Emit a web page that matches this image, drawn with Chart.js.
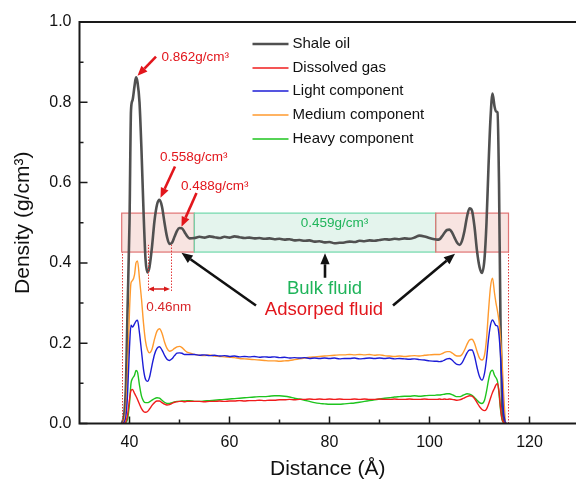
<!DOCTYPE html>
<html>
<head>
<meta charset="utf-8">
<title>Density profile</title>
<script src="https://cdn.jsdelivr.net/npm/chart.js@4.4.1/dist/chart.umd.min.js"></script>
<style>
  html, body { margin: 0; padding: 0; background: #fff; }
  #wrap { width: 576px; height: 488px; }
</style>
</head>
<body>
<div id="wrap"><canvas id="densityChart" width="576" height="488"></canvas></div>
<script>
// Distance across the slit pore (Å); dense near the walls, 1 Å in the middle
const distance = [
  38.5, 39, 39.3, 39.6, 40, 40.3, 40.6, 41, 41.3, 41.6, 42, 42.4, 42.8, 43.2, 43.6, 44,
  44.5, 45, 45.5, 46, 46.5, 47, 47.5, 48, 48.5, 49, 49.5, 50, 50.5, 51, 51.5, 52,
  53, 54, 55, 56, 57, 58, 59, 60, 61, 62, 63, 64, 65, 66, 67, 68, 69, 70,
  71, 72, 73, 74, 75, 76, 77, 78, 79, 80, 81, 82, 83, 84, 85, 86, 87, 88, 89, 90,
  91, 92, 93, 94, 95, 96, 97, 98, 99, 100, 101,
  101.5, 102, 102.5, 103, 103.5, 104, 104.5, 105, 105.5, 106, 106.5, 107, 107.5, 108, 108.5, 109,
  109.5, 110, 110.5, 111, 111.4, 111.8, 112.2, 112.6, 113, 113.3, 113.6, 113.9, 114.2, 114.5, 114.8, 115.2
];

const shaleOil = [
  0, 0.03, 0.1, 0.28, 0.5, 0.78, 0.805, 0.84, 0.862, 0.85, 0.8, 0.68, 0.53, 0.41, 0.376, 0.39,
  0.44, 0.505, 0.545, 0.557, 0.54, 0.5, 0.465, 0.447, 0.45, 0.465, 0.48, 0.487, 0.486, 0.477, 0.467, 0.461,
  0.462, 0.465, 0.463, 0.466, 0.464, 0.462, 0.465, 0.463, 0.466, 0.464, 0.462, 0.463, 0.461, 0.462, 0.46, 0.461, 0.459, 0.46,
  0.458, 0.459, 0.456, 0.457, 0.455, 0.456, 0.453, 0.454, 0.451, 0.452, 0.449, 0.45, 0.451, 0.453, 0.452, 0.455, 0.454, 0.456, 0.455, 0.457,
  0.459, 0.458, 0.46, 0.459, 0.461, 0.46, 0.463, 0.468, 0.466, 0.462, 0.459,
  0.458, 0.459, 0.466, 0.475, 0.482, 0.483, 0.476, 0.463, 0.451, 0.445, 0.455, 0.48, 0.515, 0.536, 0.53, 0.49,
  0.43, 0.39, 0.375, 0.41, 0.5, 0.64, 0.76, 0.822, 0.79, 0.777, 0.775, 0.6, 0.25, 0.06, 0.015, 0
];

const dissolvedGas = [
  0, 0, 0.005, 0.02, 0.06, 0.082, 0.085, 0.075, 0.068, 0.06, 0.048, 0.037, 0.03, 0.028, 0.03, 0.036,
  0.045, 0.052, 0.056, 0.056, 0.052, 0.048, 0.046, 0.047, 0.05, 0.053, 0.054, 0.055, 0.055, 0.054, 0.055, 0.055,
  0.055, 0.055, 0.054, 0.055, 0.055, 0.056, 0.055, 0.056, 0.056, 0.057, 0.056, 0.057, 0.057, 0.058, 0.057, 0.058, 0.058, 0.059,
  0.059, 0.06, 0.059, 0.06, 0.06, 0.061, 0.06, 0.061, 0.06, 0.061, 0.06, 0.061, 0.06, 0.06, 0.061, 0.06, 0.061, 0.06, 0.06, 0.061,
  0.06, 0.06, 0.061, 0.06, 0.06, 0.061, 0.06, 0.06, 0.061, 0.06, 0.06,
  0.06, 0.061, 0.06, 0.061, 0.06, 0.061, 0.06, 0.059, 0.058, 0.059, 0.061, 0.064, 0.067, 0.069, 0.068, 0.062,
  0.052, 0.042, 0.035, 0.032, 0.036, 0.048, 0.063, 0.077, 0.088, 0.096, 0.1, 0.08, 0.04, 0.012, 0.003, 0
];

const lightComp = [
  0, 0.005, 0.02, 0.07, 0.19, 0.245, 0.24, 0.248, 0.255, 0.257, 0.225, 0.18, 0.135, 0.11, 0.105, 0.115,
  0.145, 0.172, 0.187, 0.191, 0.183, 0.17, 0.16, 0.157, 0.161, 0.169, 0.175, 0.176, 0.175, 0.172, 0.172, 0.172,
  0.172, 0.17, 0.171, 0.169, 0.17, 0.168, 0.169, 0.167, 0.168, 0.166, 0.167, 0.166, 0.167, 0.165, 0.166, 0.165, 0.166, 0.164,
  0.165, 0.163, 0.164, 0.163, 0.164, 0.162, 0.163, 0.162, 0.163, 0.162, 0.163, 0.161, 0.162, 0.162, 0.163, 0.161, 0.162, 0.163, 0.162, 0.163,
  0.162, 0.163, 0.161, 0.162, 0.161, 0.16, 0.161, 0.159, 0.158, 0.156, 0.155,
  0.155, 0.154, 0.155, 0.158, 0.161, 0.162, 0.158, 0.152, 0.147, 0.146, 0.151, 0.163, 0.176, 0.183, 0.183, 0.168,
  0.14, 0.117, 0.108, 0.125, 0.16, 0.21, 0.245, 0.258, 0.25, 0.244, 0.243, 0.22, 0.17, 0.1, 0.03, 0
];

const mediumComp = [
  0, 0.01, 0.04, 0.12, 0.28, 0.35, 0.356, 0.37, 0.4, 0.405, 0.36, 0.31, 0.25, 0.205, 0.183, 0.176,
  0.185, 0.21, 0.23, 0.236, 0.225, 0.203, 0.187, 0.18, 0.182, 0.187, 0.191, 0.192, 0.189, 0.183, 0.178, 0.176,
  0.172, 0.17, 0.169, 0.171, 0.168, 0.167, 0.166, 0.165, 0.164, 0.162, 0.161, 0.16, 0.159, 0.158, 0.157, 0.156, 0.156, 0.155,
  0.156, 0.157, 0.159, 0.161, 0.163, 0.165, 0.166, 0.167, 0.168, 0.169, 0.17, 0.171, 0.171, 0.172, 0.171, 0.172, 0.171, 0.172, 0.17, 0.171,
  0.169, 0.168, 0.167, 0.168, 0.167, 0.168, 0.169, 0.168, 0.17, 0.171, 0.172,
  0.172, 0.172, 0.174, 0.177, 0.179, 0.179, 0.176, 0.171, 0.168, 0.168, 0.172, 0.183, 0.197, 0.208, 0.21, 0.2,
  0.18, 0.163, 0.158, 0.17, 0.21, 0.28, 0.34, 0.362, 0.325, 0.3, 0.28, 0.255, 0.21, 0.16, 0.08, 0
];

const heavyComp = [
  0, 0, 0.003, 0.01, 0.05, 0.1, 0.112, 0.12, 0.132, 0.128, 0.095, 0.068, 0.056, 0.052, 0.052, 0.054,
  0.058, 0.062, 0.064, 0.063, 0.058, 0.053, 0.05, 0.05, 0.052, 0.054, 0.055, 0.055, 0.056, 0.056, 0.057, 0.057,
  0.055, 0.055, 0.056, 0.057, 0.058, 0.059, 0.06, 0.061, 0.062, 0.063, 0.064, 0.065, 0.066, 0.067, 0.067, 0.068, 0.069, 0.069,
  0.068, 0.066, 0.063, 0.061, 0.058, 0.055, 0.052, 0.05, 0.049, 0.048, 0.048, 0.048, 0.049, 0.05, 0.051, 0.053, 0.055, 0.057, 0.059, 0.061,
  0.063, 0.064, 0.066, 0.067, 0.068, 0.068, 0.069, 0.068, 0.069, 0.07, 0.07,
  0.071, 0.071, 0.072, 0.073, 0.074, 0.074, 0.072, 0.069, 0.067, 0.067, 0.069, 0.072, 0.074, 0.073, 0.07, 0.065,
  0.058, 0.052, 0.05, 0.058, 0.08, 0.108, 0.128, 0.133, 0.12, 0.114, 0.105, 0.075, 0.035, 0.01, 0.002, 0
];

const seriesNames = ['Shale oil', 'Dissolved gas', 'Light component', 'Medium component', 'Heavy component'];
const seriesColors = ['#505050', '#f01c1c', '#1c1cd6', '#ff9a2e', '#1ec41e'];
const seriesWidths = [2.6, 1.4, 1.4, 1.4, 1.4];
const seriesValues = [shaleOil, dissolvedGas, lightComp, mediumComp, heavyComp];

const xTicks = [40, 60, 80, 100, 120];
const yTicks = [0, 0.2, 0.4, 0.6, 0.8, 1.0];

// Peak call-outs, region boxes and guide marks, in axis units
const peakNotes = [
  { label: '0.862g/cm³', x: 46.4, y: 0.912, tail: [45.3, 0.914], tip: [41.6, 0.866] },
  { label: '0.558g/cm³', x: 46.1, y: 0.662, tail: [49.1, 0.64], tip: [46.2, 0.562] },
  { label: '0.488g/cm³', x: 50.3, y: 0.592, tail: [53.4, 0.574], tip: [50.4, 0.49] }
];
const regionBand = [0.427, 0.524];
const regions = [
  { from: 38.44, to: 52.96, kind: 'adsorbed' },
  { from: 52.96, to: 101.24, kind: 'bulk' },
  { from: 101.24, to: 115.8, kind: 'adsorbed' }
];
const dottedGuides = [
  { x: 38.44, y0: 0, y1: 0.427 },
  { x: 43.6, y0: 0.33, y1: 0.445 },
  { x: 48.2, y0: 0.33, y1: 0.445 },
  { x: 115.65, y0: 0, y1: 0.427 }
];
const pointerArrows = [
  { tail: [65.3, 0.294], tip: [50.4, 0.425] },
  { tail: [92.7, 0.294], tip: [105.1, 0.423] },
  { tail: [79.1, 0.363], tip: [79.1, 0.424] }
];

const FONT = '"Liberation Sans", Arial, Helvetica, sans-serif';
const RED = '#e2161c';
const GREEN = '#1fb45a';

function arrow(ctx, x1, y1, x2, y2, color, width, head) {
  const ang = Math.atan2(y2 - y1, x2 - x1);
  const bx = x2 - head * Math.cos(ang);
  const by = y2 - head * Math.sin(ang);
  const hw = head * 0.42;
  ctx.strokeStyle = color;
  ctx.fillStyle = color;
  ctx.lineWidth = width;
  ctx.beginPath();
  ctx.moveTo(x1, y1);
  ctx.lineTo(bx, by);
  ctx.stroke();
  ctx.beginPath();
  ctx.moveTo(x2, y2);
  ctx.lineTo(bx + hw * Math.sin(ang), by - hw * Math.cos(ang));
  ctx.lineTo(bx - hw * Math.sin(ang), by + hw * Math.cos(ang));
  ctx.closePath();
  ctx.fill();
}

function label(ctx, str, px, py, size, color, align) {
  ctx.font = size + 'px ' + FONT;
  ctx.fillStyle = color;
  ctx.textAlign = align || 'left';
  ctx.textBaseline = 'middle';
  ctx.fillText(str, px, py);
}

// shaded boxes for adsorbed / bulk layers, under the curves
const regionPlugin = {
  id: 'regionPlugin',
  beforeDatasetsDraw(chart) {
    const { ctx, scales: { x, y } } = chart;
    const top = y.getPixelForValue(regionBand[1]);
    const bot = y.getPixelForValue(regionBand[0]);
    ctx.save();
    regions.forEach(r => {
      const l = x.getPixelForValue(r.from);
      const w = x.getPixelForValue(r.to) - l;
      ctx.fillStyle = r.kind === 'bulk' ? '#e4f4ed' : '#f8e4e1';
      ctx.fillRect(l, top, w, bot - top);
    });
    regions.forEach(r => {
      const l = x.getPixelForValue(r.from);
      const w = x.getPixelForValue(r.to) - l;
      ctx.strokeStyle = r.kind === 'bulk' ? '#6fd8ab' : '#e07474';
      ctx.lineWidth = 1.2;
      ctx.strokeRect(l, top, w, bot - top);
    });
    ctx.restore();
  }
};

// axes frame, inward ticks, legend and annotations
const overlayPlugin = {
  id: 'overlayPlugin',
  afterDraw(chart) {
    const { ctx, chartArea: a, scales: { x, y } } = chart;
    ctx.save();

    // dotted guides
    ctx.strokeStyle = '#e23b3b';
    ctx.lineWidth = 1;
    ctx.setLineDash([1.5, 1.5]);
    dottedGuides.forEach(g => {
      const px = Math.round(x.getPixelForValue(g.x)) + 0.5;
      ctx.beginPath();
      ctx.moveTo(px, y.getPixelForValue(g.y0));
      ctx.lineTo(px, y.getPixelForValue(g.y1));
      ctx.stroke();
    });
    ctx.setLineDash([]);

    // gap between first and second minima
    const gy = y.getPixelForValue(0.335);
    const g0 = x.getPixelForValue(43.6), g1 = x.getPixelForValue(48.2);
    const gm = (g0 + g1) / 2;
    arrow(ctx, gm, gy, g0 + 0.5, gy, '#d81a1a', 1.5, 6);
    arrow(ctx, gm, gy, g1 - 0.5, gy, '#d81a1a', 1.5, 6);
    label(ctx, '0.46nm', x.getPixelForValue(47.86), y.getPixelForValue(0.29), 13.5, '#d8262a', 'center');

    // peak call-outs
    peakNotes.forEach(n => {
      arrow(ctx, x.getPixelForValue(n.tail[0]), y.getPixelForValue(n.tail[1]),
        x.getPixelForValue(n.tip[0]), y.getPixelForValue(n.tip[1]), RED, 2.6, 10);
      label(ctx, n.label, x.getPixelForValue(n.x), y.getPixelForValue(n.y), 13.5, RED);
    });
    label(ctx, '0.459g/cm³', x.getPixelForValue(81.0), y.getPixelForValue(0.498), 13.5, GREEN, 'center');

    // region pointers
    pointerArrows.forEach(p => {
      arrow(ctx, x.getPixelForValue(p.tail[0]), y.getPixelForValue(p.tail[1]),
        x.getPixelForValue(p.tip[0]), y.getPixelForValue(p.tip[1]), '#111', 2.6, 11);
    });
    label(ctx, 'Bulk fluid', x.getPixelForValue(79.0), y.getPixelForValue(0.334), 18.5, GREEN, 'center');
    label(ctx, 'Adsorped fluid', x.getPixelForValue(78.9), y.getPixelForValue(0.283), 18.5, RED, 'center');

    // frame
    ctx.strokeStyle = '#1a1a1a';
    ctx.lineWidth = 2;
    ctx.beginPath();
    ctx.moveTo(a.right, a.top);
    ctx.lineTo(a.left, a.top);
    ctx.lineTo(a.left, a.bottom);
    ctx.lineTo(a.right, a.bottom);
    ctx.stroke();

    // inward ticks, majors and minors
    ctx.lineWidth = 1.5;
    ctx.beginPath();
    xTicks.forEach((v, i) => {
      const px = x.getPixelForValue(v);
      ctx.moveTo(px, a.bottom); ctx.lineTo(px, a.bottom - 7);
      const mv = v + (xTicks[1] - xTicks[0]) / 2;
      if (mv < x.max) {
        const mx = x.getPixelForValue(mv);
        ctx.moveTo(mx, a.bottom); ctx.lineTo(mx, a.bottom - 4);
      }
      if (i === 0) {
        const lx = x.getPixelForValue(v - (xTicks[1] - xTicks[0]) / 2);
        if (lx > a.left + 2) { ctx.moveTo(lx, a.bottom); ctx.lineTo(lx, a.bottom - 4); }
      }
    });
    yTicks.forEach((v, i) => {
      const py = y.getPixelForValue(v);
      ctx.moveTo(a.left, py); ctx.lineTo(a.left + 8, py);
      if (i < yTicks.length - 1) {
        const my = y.getPixelForValue((v + yTicks[i + 1]) / 2);
        ctx.moveTo(a.left, my); ctx.lineTo(a.left + 4, my);
      }
    });
    ctx.stroke();

    // legend
    const lx = a.left + 173, ly = a.top + 21.7, step = 23.8;
    chart.data.datasets.forEach((ds, i) => {
      const py = Math.round(ly + i * step);
      ctx.strokeStyle = ds.borderColor;
      ctx.lineWidth = ds.borderWidth;
      ctx.beginPath();
      ctx.moveTo(lx, py);
      ctx.lineTo(lx + 36, py);
      ctx.stroke();
      label(ctx, ds.label, lx + 40, py, 15, '#111');
    });

    ctx.restore();
  }
};

const ctx = document.getElementById('densityChart');
new Chart(ctx, {
  type: 'line',
  data: {
    labels: distance,
    datasets: seriesNames.map((name, i) => ({
      label: name,
      data: distance.map((d, k) => ({ x: d, y: seriesValues[i][k] })),
      borderColor: seriesColors[i],
      borderWidth: seriesWidths[i],
      pointRadius: 0,
      cubicInterpolationMode: 'monotone',
      fill: false,
      order: i === 0 ? 1 : 0
    }))
  },
  options: {
    responsive: false,
    animation: false,
    devicePixelRatio: 1,
    layout: { padding: { top: 22, right: 0, left: 0, bottom: 0 } },
    plugins: { legend: { display: false }, tooltip: { enabled: false } },
    scales: {
      x: {
        type: 'linear',
        min: 30,
        max: 129.3,
        grid: { display: false, drawTicks: false },
        border: { display: false },
        afterBuildTicks: s => { s.ticks = xTicks.map(v => ({ value: v })); },
        afterFit: s => { s.height = 64.5; },
        ticks: {
          color: '#111',
          padding: 9,
          maxRotation: 0,
          font: { family: FONT, size: 16 },
          callback: v => String(v)
        },
        title: {
          display: true,
          text: 'Distance (Å)',
          color: '#111',
          font: { family: FONT, size: 21 },
          padding: { top: 0, bottom: 6 }
        }
      },
      y: {
        min: 0,
        max: 1.0,
        grid: { display: false, drawTicks: false },
        border: { display: false },
        afterBuildTicks: s => { s.ticks = yTicks.map(v => ({ value: v })); },
        afterFit: s => { s.width = 79.5; },
        ticks: {
          color: '#111',
          padding: 8,
          font: { family: FONT, size: 16 },
          callback: v => Number(v).toFixed(1)
        },
        title: {
          display: true,
          text: 'Density (g/cm³)',
          color: '#111',
          font: { family: FONT, size: 21 },
          padding: { top: 11, bottom: 0 }
        }
      }
    }
  },
  plugins: [regionPlugin, overlayPlugin]
});
</script>
</body>
</html>
